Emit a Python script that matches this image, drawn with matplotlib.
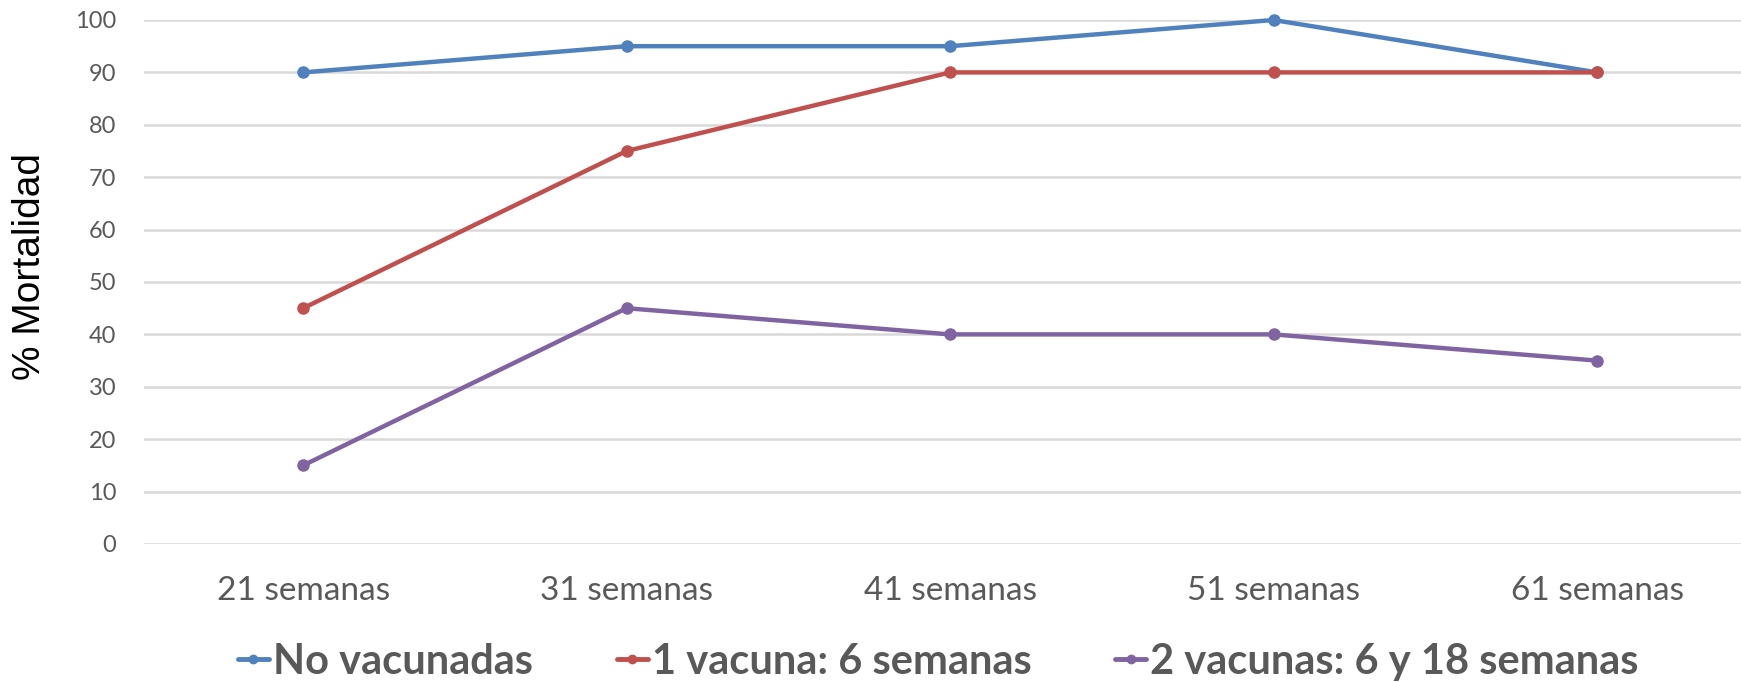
import matplotlib.pyplot as plt

# data
categories = ["21 semanas", "31 semanas", "41 semanas", "51 semanas", "61 semanas"]
no_vacunadas = [90, 95, 95, 100, 90]
una_vacuna = [45, 75, 90, 90, 90]
dos_vacunas = [15, 45, 40, 40, 35]
series_names = ["No vacunadas", "1 vacuna: 6 semanas", "2 vacunas: 6 y 18 semanas"]
colors = ["#4F81BD", "#C0504D", "#8064A2"]
yticks = [0, 10, 20, 30, 40, 50, 60, 70, 80, 90, 100]

W, H = 1741, 682
fig = plt.figure(figsize=(W / 100, H / 100), dpi=100)

# plot area in pixels (left, right, top, bottom)
left_px, right_px, top_px, bottom_px = 144, W, 20, 544
ax = fig.add_axes([left_px / W, 1 - bottom_px / H,
                   (right_px - left_px) / W, (bottom_px - top_px) / H])

x = list(range(len(categories)))
for vals, name, c in zip([no_vacunadas, una_vacuna, dos_vacunas], series_names, colors):
    ax.plot(x, vals, color=c, lw=3.2, marker="o", markersize=8,
            solid_capstyle="round", label=name, clip_on=False, zorder=3)

ax.set_xlim(-0.492, 4.445)
ax.set_ylim(0, 100)
ax.set_yticks(yticks)
ax.set_xticks(x)
ax.set_xticklabels(categories)

for s in ax.spines.values():
    s.set_visible(False)
ax.grid(axis="y", color="#D9D9D9", lw=1.8)
ax.set_axisbelow(True)
ax.tick_params(length=0)
ax.tick_params(axis="y", pad=20, labelsize=17, labelcolor="#595959")
ax.tick_params(axis="x", pad=23, labelsize=24, labelcolor="#595959")
for lab in ax.get_xticklabels() + ax.get_yticklabels():
    lab.set_family("Lato")

fig.text(30 / W, 1 - 266 / H, "% Mortalidad", rotation=90, ha="center", va="center",
         fontsize=28, family="Liberation Sans", color="black")

leg = fig.legend(*ax.get_legend_handles_labels(), loc="center",
                 bbox_to_anchor=(0.539, 1 - 662 / H), ncol=3, frameon=False,
                 handlelength=0.75, handletextpad=0.1, columnspacing=2.0,
                 prop={"family": "Lato", "weight": "bold", "size": 30})
for t in leg.get_texts():
    t.set_color("#595959")
for h in leg.legend_handles:
    h.set_markersize(6)
    h.set_linewidth(3.5)

fig.savefig("out.png", dpi=100)
